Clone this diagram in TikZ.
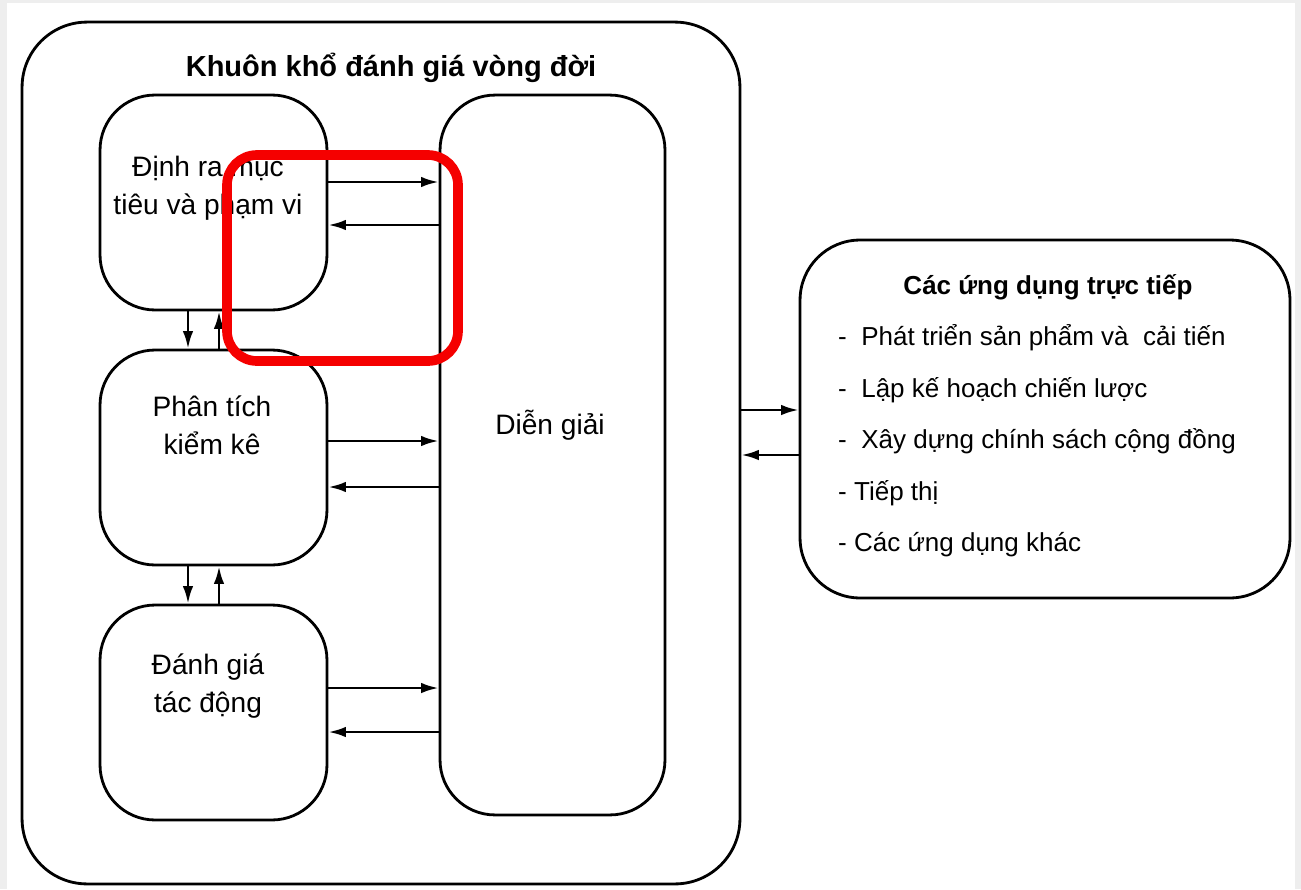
\documentclass[tikz,border=0pt]{standalone}
\usepackage{fontspec}
\setmainfont{Liberation Sans}
\usetikzlibrary{arrows.meta,positioning}
\definecolor{framegray}{RGB}{238,238,238}
\definecolor{markred}{RGB}{245,0,0}

\begin{document}
\begin{tikzpicture}[x=0.02cm, y=-0.02cm,
    box/.style={draw, line width=1.6pt, rounded corners=1.1cm, inner sep=0pt},
    txt/.style={font=\fontsize{16}{21.5}\selectfont, align=center},
    item/.style={anchor=west, font=\fontsize{14.8}{16}\selectfont},
    link/.style={->, line width=1.5pt},
    >={Latex[length=10pt,width=6pt]}]
    \fill[framegray] (0,0) rectangle (1301,889);
    \fill[white] (7,3) rectangle (1295,889);
    \useasboundingbox (0,0) rectangle (1301,889);

    % khung danh gia vong doi
    \node[box, rounded corners=1.3cm, minimum width=14.36cm, minimum height=17.24cm] (frame) at (381,453) {};
    \node[font=\bfseries\fontsize{16.5}{18}\selectfont] (title) at (391,68) {Khuôn khổ đánh giá vòng đời};

    \node[box, minimum width=4.54cm, minimum height=4.3cm] (goal) at (213.5,202.5) {};
    \node[box, minimum width=4.54cm, minimum height=4.3cm] (inv) at (213.5,457.5) {};
    \node[box, minimum width=4.54cm, minimum height=4.3cm] (impact) at (213.5,712.5) {};
    \node[box, minimum width=4.5cm, minimum height=14.4cm] (interp) at (552.5,455) {};

    \node[txt] (goaltxt) at (208,188) {Định ra mục\\tiêu và phạm vi};
    \node[txt] (invtxt) at (212,425) {Phân tích\\kiểm kê};
    \node[txt] (impacttxt) at (208,686) {Đánh giá\\tác động};
    \node[txt] (interptxt) at (550,425) {Diễn giải};

    \foreach \b/\yr/\yl in {goal/182/225, inv/441/487, impact/688/732} {
        \draw[link] (\b.east |- 0,\yr) -- (interp.west |- 0,\yr);
        \draw[link] (interp.west |- 0,\yl) -- (\b.east |- 0,\yl);
    }
    \draw[link] (188,0 |- goal.south) -- (188,0 |- inv.north);
    \draw[link] (219,0 |- inv.north) -- (219,0 |- goal.south);
    \draw[link] (188,0 |- inv.south) -- (188,0 |- impact.north);
    \draw[link] (219,0 |- impact.north) -- (219,0 |- inv.south);

    % ung dung truc tiep
    \node[box, rounded corners=1.2cm, minimum width=9.8cm, minimum height=7.16cm] (apps) at (1045,419) {};
    \node[font=\bfseries\fontsize{14.8}{16}\selectfont] (appstitle) at (1048,287) {Các ứng dụng trực tiếp};
    \node[item] (app1) at (832,338) {-~~Phát triển sản phẩm và~~cải tiến};
    \node[item] (app2) at (832,390) {-~~Lập kế hoạch chiến lược};
    \node[item] (app3) at (832,441) {-~~Xây dựng chính sách cộng đồng};
    \node[item] (app4) at (832,493) {- Tiếp thị};
    \node[item] (app5) at (832,545) {- Các ứng dụng khác};

    \draw[link] (frame.east |- 0,410) -- (apps.west |- 0,410);
    \draw[link] (apps.west |- 0,455) -- (frame.east |- 0,455);

    % khung danh dau
    \draw[markred, line width=5.5pt, rounded corners=0.6cm] (227,155) rectangle (458,361);
\end{tikzpicture}
\end{document}
